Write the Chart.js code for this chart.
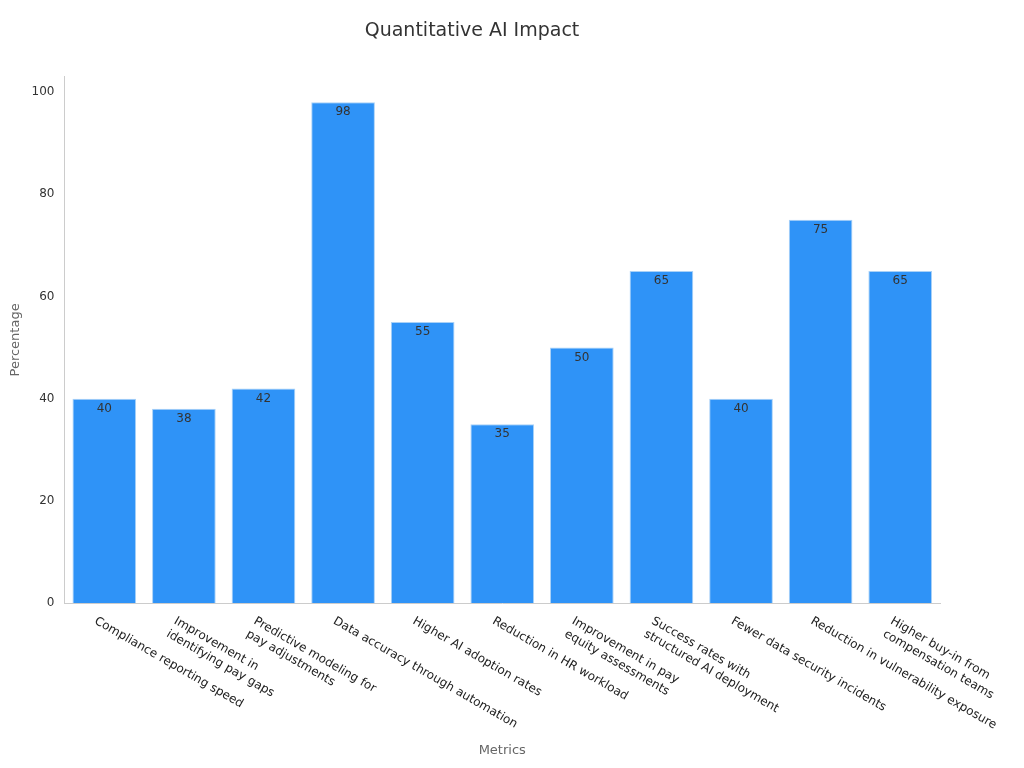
<!DOCTYPE html>
<html>
<head>
<meta charset="utf-8">
<script src="https://cdn.jsdelivr.net/npm/chart.js@4"></script>
<style>
  html, body { margin: 0; padding: 0; background: #fff; }
  #wrap { width: 1024px; height: 768px; }
</style>
</head>
<body>
<div id="wrap"><canvas id="c"></canvas></div>
<script>
// Data
const metricLabels = [
  ['Compliance reporting speed'],
  ['Improvement in', 'identifying pay gaps'],
  ['Predictive modeling for', 'pay adjustments'],
  ['Data accuracy through automation'],
  ['Higher AI adoption rates'],
  ['Reduction in HR workload'],
  ['Improvement in pay', 'equity assessments'],
  ['Success rates with', 'structured AI deployment'],
  ['Fewer data security incidents'],
  ['Reduction in vulnerability exposure'],
  ['Higher buy-in from', 'compensation teams']
];
const percentValues = [40, 38, 42, 98, 55, 35, 50, 65, 40, 75, 65];
const yTicks = [0, 20, 40, 60, 80, 100];

const FONT = 'DejaVu Sans';

// draws value labels inside bars and slanted category labels under the axis
const labelPlugin = {
  id: 'labels',
  afterDatasetsDraw(chart) {
    const ctx = chart.ctx;
    const meta = chart.getDatasetMeta(0);
    ctx.save();
    ctx.font = '12px "' + FONT + '"';
    ctx.fillStyle = '#333';
    ctx.textAlign = 'center';
    ctx.textBaseline = 'top';
    meta.data.forEach((bar, i) => {
      ctx.fillText(String(percentValues[i]), bar.x, bar.y + 4);
    });

    const xs = chart.scales.x;
    const top = chart.chartArea.bottom + 12;
    ctx.textAlign = 'left';
    ctx.textBaseline = 'top';
    ctx.fillStyle = '#222';
    metricLabels.forEach((lines, i) => {
      const x = xs.getPixelForTick(i);
      ctx.save();
      ctx.translate(x - 6, top);
      ctx.rotate(30 * Math.PI / 180);
      lines.forEach((ln, j) => ctx.fillText(ln, 0, j * 15));
      ctx.restore();
    });
    ctx.restore();
  }
};

new Chart(document.getElementById('c'), {
  type: 'bar',
  data: {
    labels: metricLabels.map(l => l.join(' ')),
    datasets: [{
      data: percentValues,
      backgroundColor: '#2f93f7',
      borderColor: '#a9d1f7',
      borderWidth: 1,
      barPercentage: 1,
      categoryPercentage: 0.8
    }]
  },
  options: {
    responsive: true,
    maintainAspectRatio: false,
    animation: false,
    layout: { padding: { left: 4, right: 84, top: 10, bottom: 6 } },
    plugins: {
      legend: { display: false },
      tooltip: { enabled: false },
      title: {
        display: true,
        text: 'Quantitative AI Impact',
        color: '#333',
        font: { family: FONT, size: 19, weight: 'normal' },
        padding: { top: 10, bottom: 34 }
      }
    },
    scales: {
      x: {
        grid: { display: false, drawTicks: true },
        border: { color: '#ccc' },
        ticks: { display: false },
        title: {
          display: true, text: 'Metrics', color: '#666',
          font: { family: FONT, size: 13 }
        },
        afterFit(s) { s.height = 159; }
      },
      y: {
        min: 0, max: 103,
        afterBuildTicks(s) { s.ticks = yTicks.map(v => ({ value: v })); },
        grid: { display: false, drawTicks: true, tickLength: 6, tickColor: '#ccc' },
        border: { color: '#ccc' },
        ticks: { color: '#333', font: { family: FONT, size: 12 }, padding: 4 },
        title: {
          display: true, text: 'Percentage', color: '#666',
          font: { family: FONT, size: 13 }
        }
      }
    }
  },
  plugins: [labelPlugin]
});
</script>
</body>
</html>
